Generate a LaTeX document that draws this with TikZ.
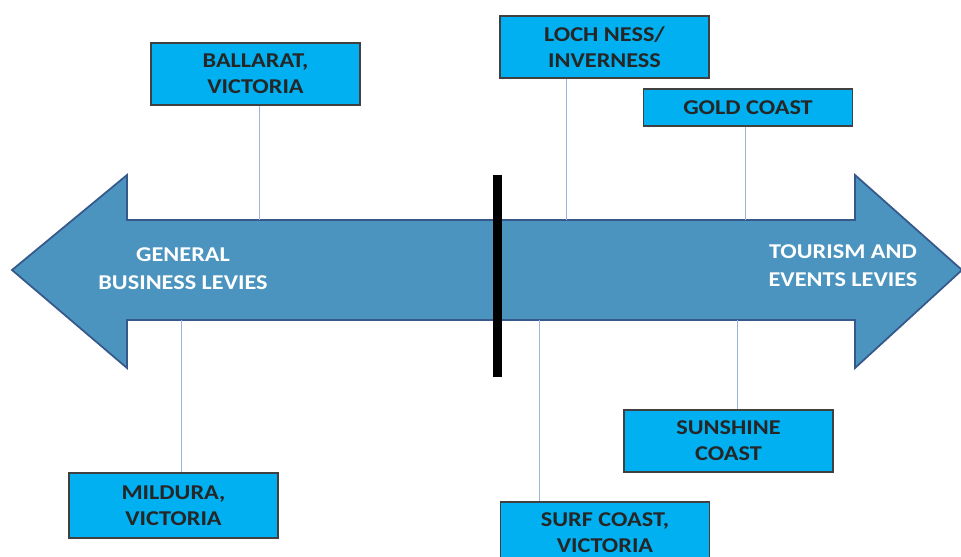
\documentclass[tikz,border=0pt]{standalone}
\usepackage{fontspec}
\setmainfont{Carlito}[FakeStretch=1.15]
\usetikzlibrary{positioning}

\definecolor{axisblue}{HTML}{4A94BF}
\definecolor{axisedge}{HTML}{36588A}
\definecolor{boxblue}{HTML}{00B0F0}
\definecolor{linkblue}{HTML}{9DB5DA}

\tikzset{
  place/.style={draw=black!75,fill=boxblue,thick,minimum width=4.18cm,minimum height=1.24cm,
    align=center,font=\fontsize{12}{14.7}\selectfont\bfseries,text=black!85},
  levy/.style={align=center,text=white,font=\fontsize{12}{15.8}\selectfont\bfseries},
  link/.style={draw=linkblue,thin}
}

\begin{document}
\begin{tikzpicture}[x=0.02cm,y=-0.02cm]
      \useasboundingbox (0,0) rectangle (961,556);
      % the double arrow
      \draw[fill=axisblue,draw=axisedge,line width=1pt] (12,270) -- (127,175) -- (127,220) -- (855,220)
        -- (855,175) -- (962,270) -- (855,368) -- (855,320) -- (127,320) -- (127,368) -- cycle;
      \node[levy] (general) at (183,269) {GENERAL\\BUSINESS LEVIES};
      \node[levy] (tourism) at (843,266) {TOURISM AND\\EVENTS LEVIES};
      \draw[line width=1.8mm] (497,175) -- (497,377);
      % places
      \node[place] (ballarat) at (255.5,74) {BALLARAT,\\VICTORIA};
      \node[place] (lochness) at (604.5,47) {LOCH NESS/\\INVERNESS};
      \node[place,minimum height=0.74cm] (goldcoast) at (748,107.5) {GOLD COAST};
      \node[place,minimum height=1.3cm] (mildura) at (173.5,505.5) {MILDURA,\\VICTORIA};
      \node[place] (surfcoast) at (605,533) {SURF COAST,\\VICTORIA};
      \node[place] (sunshine) at (728.5,441) {SUNSHINE\\COAST};
      % where the links meet the arrow
      \coordinate (b) at (259,220);
      \coordinate (l) at (566,220);
      \coordinate (g) at (745,220);
      \coordinate (m) at (181,320);
      \coordinate (s) at (539,320);
      \coordinate (c) at (737,320);
      \draw[link] (ballarat.south -| b) -- (b);
      \draw[link] (lochness.south -| l) -- (l);
      \draw[link] (goldcoast.south -| g) -- (g);
      \draw[link] (mildura.north -| m) -- (m);
      \draw[link] (surfcoast.north -| s) -- (s);
      \draw[link] (sunshine.north -| c) -- (c);
\end{tikzpicture}
\end{document}
